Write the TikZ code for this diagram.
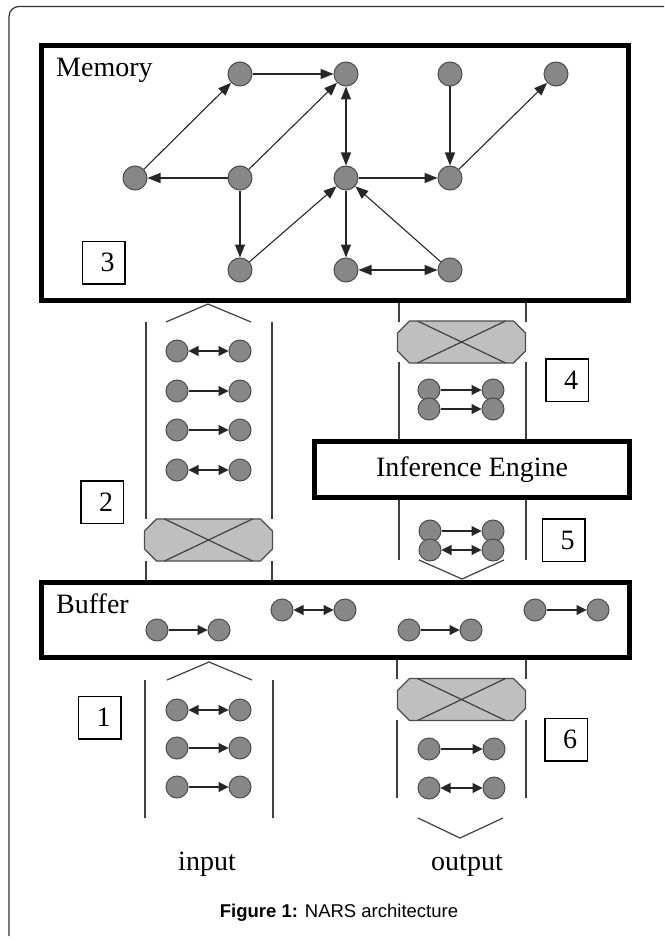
\documentclass[tikz,border=0pt]{standalone}
\usepackage{fontspec}
\setmainfont{Liberation Serif}
\newfontfamily\capfont{Liberation Sans}
\usetikzlibrary{arrows.meta}

\begin{document}
\begin{tikzpicture}[x=1pt,y=-1pt,>={Triangle[length=13pt,width=10pt]},
    vtx/.style={circle,draw=black!70,fill=black!47,line width=1pt,minimum size=24pt,inner sep=0pt},
    svtx/.style={vtx,minimum size=22pt},
    edge/.style={line width=1.1pt,black!85},
    sedge/.style={line width=1.1pt,black!85,>={Triangle[length=10pt,width=10pt]}},
    frame/.style={draw,line width=4.8pt,inner sep=0pt},
    numbox/.style={draw,line width=1.5pt,minimum size=42.5pt,inner sep=0pt,txt},
    tube/.style={line width=1.2pt,black!75},
    txt/.style={font=\fontsize{28}{30}\selectfont,inner sep=0pt},
    valve/.pic={
      \draw[line width=1.2pt,draw=black!70,fill=black!25] (-52,-21) -- (52,-21) -- (64,-9) -- (64,9)
        -- (52,21) -- (-52,21) -- (-64,9) -- (-64,-9) -- cycle;
      \draw[line width=1.2pt,black!75] (-44,-21) -- (44,21) (44,-21) -- (-44,21);
    }]
    \useasboundingbox (0,0) rectangle (664,944);
    \draw[line width=1.2pt,black!80,rounded corners=10pt] (9,936) -- (9,6.5) -- (664,6.5);

    % boxes
    \node[frame,minimum width=587.5pt,minimum height=255.5pt] (mem) at (335,173) {};
    \node[frame,minimum width=588.5pt,minimum height=75.5pt] (buf) at (335.5,620) {};
    \node[frame,txt,minimum width=315.5pt,minimum height=56.5pt] (ie) at (472,469.5) {Inference Engine};
    \node[txt,anchor=base west] (memlbl) at (56,77) {Memory};
    \node[txt,anchor=base west] (buflbl) at (56,613) {Buffer};

    \node[numbox] (b1) at (99.5,717.5) {\hspace*{8pt}1};
    \node[numbox] (b2) at (102,502) {\hspace*{8pt}2};
    \node[numbox] (b3) at (103.5,262.5) {\hspace*{8pt}3};
    \node[numbox] (b4) at (567,380) {\hspace*{8pt}4};
    \node[numbox] (b5) at (563.5,540) {\hspace*{8pt}5};
    \node[numbox] (b6) at (566,739.5) {\hspace*{8pt}6};

    % memory graph
    \node[vtx] (m0) at (240,74) {};
    \node[vtx] (m1) at (346,74) {};
    \node[vtx] (m2) at (450,74) {};
    \node[vtx] (m3) at (556,74) {};
    \node[vtx] (m4) at (135,178) {};
    \node[vtx] (m5) at (240,178) {};
    \node[vtx] (m6) at (346,178) {};
    \node[vtx] (m7) at (450,178) {};
    \node[vtx] (m8) at (240,270) {};
    \node[vtx] (m9) at (346,270) {};
    \node[vtx] (m10) at (450,270) {};

    \draw[edge,->] (m0) -- (m1);
    \draw[edge,->] (m5) -- (m4);
    \draw[edge,->] (m4) -- (m0);
    \draw[edge,->] (m5) -- (m1);
    \draw[edge,<->] (m1) -- (m6);
    \draw[edge,->] (m5) -- (m8);
    \draw[edge,->] (m8) -- (m6);
    \draw[edge,->] (m6) -- (m7);
    \draw[edge,->] (m2) -- (m7);
    \draw[edge,->] (m7) -- (m3);
    \draw[edge,->] (m6) -- (m9);
    \draw[edge,->] (m10) -- (m6);
    \draw[edge,<->] (m9) -- (m10);

    % tube 2 (buffer to memory)
    \draw[tube] (146,322) -- (146,519) (272,322) -- (272,519);
    \draw[tube] (146,561) -- (146,580) (272,561) -- (272,580);
    \draw[tube] (166,322) -- (208,304) -- (251,322);
    \pic at (208.5,540) {valve};
    \node[svtx] (u1a) at (177,351) {};
    \node[svtx] (u1b) at (240,351) {};
    \node[svtx] (u2a) at (177,391) {};
    \node[svtx] (u2b) at (240,391) {};
    \node[svtx] (u3a) at (177,430) {};
    \node[svtx] (u3b) at (240,430) {};
    \node[svtx] (u4a) at (177,470) {};
    \node[svtx] (u4b) at (240,470) {};
    \draw[sedge,<->] (u1a) -- (u1b);
    \draw[sedge,->] (u2a) -- (u2b);
    \draw[sedge,->] (u3a) -- (u3b);
    \draw[sedge,<->] (u4a) -- (u4b);

    % tube 4 (memory to inference engine)
    \draw[tube] (399,303) -- (399,322) (526,303) -- (526,322);
    \draw[tube] (399,362) -- (399,439) (526,362) -- (526,439);
    \pic at (461.5,342) {valve};
    \node[svtx] (r1a) at (429,390) {};
    \node[svtx] (r1b) at (493,390) {};
    \node[svtx] (r2a) at (429,409) {};
    \node[svtx] (r2b) at (493,409) {};
    \draw[sedge,->] (r1a) -- (r1b);
    \draw[sedge,->] (r2a) -- (r2b);

    % tube 5 (inference engine to buffer)
    \draw[tube] (399,500) -- (399,560) (526,500) -- (526,560);
    \draw[tube] (419,560) -- (462,579) -- (504,560);
    \node[svtx] (s1a) at (430,531) {};
    \node[svtx] (s1b) at (493,531) {};
    \node[svtx] (s2a) at (430,550) {};
    \node[svtx] (s2b) at (493,550) {};
    \draw[sedge,->] (s1a) -- (s1b);
    \draw[sedge,<->] (s2a) -- (s2b);

    % buffer
    \node[svtx] (f1a) at (157,630) {};
    \node[svtx] (f1b) at (219,630) {};
    \node[svtx] (f2a) at (282,610) {};
    \node[svtx] (f2b) at (345,610) {};
    \node[svtx] (f3a) at (409,630) {};
    \node[svtx] (f3b) at (471,630) {};
    \node[svtx] (f4a) at (535,610) {};
    \node[svtx] (f4b) at (598,610) {};
    \draw[sedge,->] (f1a) -- (f1b);
    \draw[sedge,<->] (f2a) -- (f2b);
    \draw[sedge,->] (f3a) -- (f3b);
    \draw[sedge,->] (f4a) -- (f4b);

    % tube 1 (input)
    \draw[tube] (145,680) -- (145,818) (273,680) -- (273,818);
    \draw[tube] (167,680) -- (209,662) -- (252,680);
    \node[svtx] (n1a) at (177,710) {};
    \node[svtx] (n1b) at (240,710) {};
    \node[svtx] (n2a) at (177,748) {};
    \node[svtx] (n2b) at (240,748) {};
    \node[svtx] (n3a) at (177,787) {};
    \node[svtx] (n3b) at (240,787) {};
    \draw[sedge,<->] (n1a) -- (n1b);
    \draw[sedge,->] (n2a) -- (n2b);
    \draw[sedge,->] (n3a) -- (n3b);

    % tube 6 (output)
    \draw[tube] (397,660) -- (397,679) (526,660) -- (526,679);
    \draw[tube] (397,720) -- (397,798) (526,720) -- (526,798);
    \draw[tube] (418,818) -- (460,838) -- (503,818);
    \pic at (461.5,699.5) {valve};
    \node[svtx] (o1a) at (429,749) {};
    \node[svtx] (o1b) at (494,749) {};
    \node[svtx] (o2a) at (429,788) {};
    \node[svtx] (o2b) at (494,788) {};
    \draw[sedge,->] (o1a) -- (o1b);
    \draw[sedge,<->] (o2a) -- (o2b);

    \node[txt,anchor=base] (inlbl) at (207,870) {input};
    \node[txt,anchor=base] (outlbl) at (467,870) {output};
    \node[anchor=base,inner sep=0pt,font=\capfont\fontsize{18.5}{20}\selectfont] (cap) at (339,917) {\textbf{Figure 1:} NARS architecture};
\end{tikzpicture}
\end{document}
